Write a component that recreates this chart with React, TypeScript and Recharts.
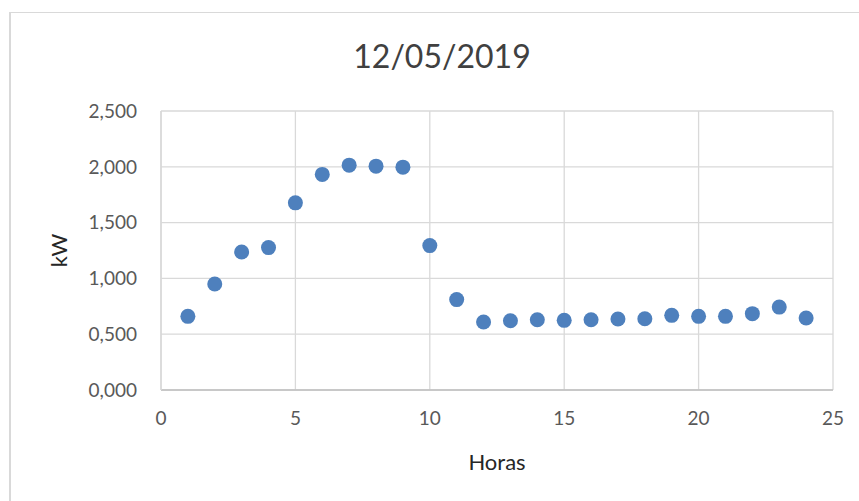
import { ScatterChart, Scatter, XAxis, YAxis, CartesianGrid, Label } from "recharts";

const HOURS = [1, 2, 3, 4, 5, 6, 7, 8, 9, 10, 11, 12, 13, 14, 15, 16, 17, 18, 19, 20, 21, 22, 23, 24];
const KW = [
  0.66, 0.95, 1.237, 1.276, 1.677, 1.932, 2.015, 2.006, 1.997, 1.294, 0.81, 0.609,
  0.621, 0.63, 0.624, 0.63, 0.636, 0.639, 0.669, 0.66, 0.66, 0.684, 0.743, 0.645,
];
const X_TICKS = [0, 5, 10, 15, 20, 25];
const Y_TICKS = [0, 0.5, 1, 1.5, 2, 2.5];
const TITLE = "12/05/2019";

const FONT = "Lato, 'Open Sans', sans-serif";
const DOT = "#4e80bd";

const points = HOURS.map((h, i) => ({ x: h, y: KW[i] }));

const fmtKw = (v: number) => v.toFixed(3).replace(".", ",");

export default function App() {
  return (
    <div style={{ position: "absolute", left: 0, top: 0, width: 859, height: 501, overflow: "hidden", background: "#fff", fontFamily: FONT }}>
      {/* chart area frame, runs off the right and bottom edges */}
      <div
        style={{
          position: "absolute",
          left: 9,
          top: 12,
          width: 880,
          height: 520,
          borderLeft: "2px solid #d9d9d9",
          borderTop: "1px solid #d9d9d9",
        }}
      />
      <div
        style={{
          position: "absolute",
          left: 9,
          width: 866,
          top: 36,
          textAlign: "center",
          fontSize: 32,
          color: "#404040",
          lineHeight: "40px",
        }}
      >
        {TITLE}
      </div>
      <div style={{ position: "absolute", left: 0, top: 0 }}>
        <ScatterChart width={859} height={501} margin={{ top: 111, right: 26, left: 61, bottom: 81 }}>
          <CartesianGrid stroke="#d9d9d9" strokeWidth={1.3} />
          <XAxis
            type="number"
            dataKey="x"
            domain={[0, 25]}
            ticks={X_TICKS}
            height={30}
            tickLine={false}
            tickSize={0}
            tickMargin={22}
            axisLine={{ stroke: "#bfbfbf", strokeWidth: 1.5 }}
            tick={{ fill: "#595959", fontSize: 19, fontFamily: FONT }}
          >
            <Label value="Horas" position="bottom" offset={34} style={{ fill: "#262626", fontSize: 22, fontFamily: FONT }} />
          </XAxis>
          <YAxis
            type="number"
            dataKey="y"
            domain={[0, 2.5]}
            ticks={Y_TICKS}
            width={100}
            tickLine={false}
            tickSize={0}
            tickMargin={24}
            tickFormatter={fmtKw}
            axisLine={{ stroke: "#d9d9d9", strokeWidth: 1.5 }}
            tick={{ fill: "#595959", fontSize: 19, fontFamily: FONT }}
          >
            <Label
              value="kW"
              angle={-90}
              position="insideLeft"
              offset={-2}
              style={{ fill: "#262626", fontSize: 22, fontFamily: FONT, textAnchor: "middle" }}
            />
          </YAxis>
          <Scatter
            data={points}
            isAnimationActive={false}
            shape={(p: any) => <circle cx={p.cx} cy={p.cy} r={7.5} fill={DOT} />}
          />
        </ScatterChart>
      </div>
    </div>
  );
}
